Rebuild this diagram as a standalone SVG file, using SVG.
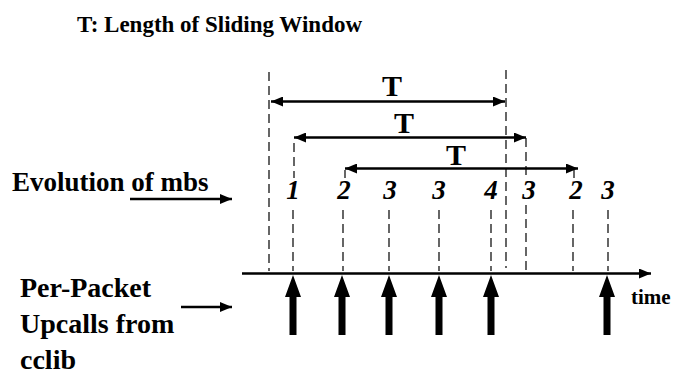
<svg xmlns="http://www.w3.org/2000/svg" width="680" height="379" viewBox="0 0 680 379">
<defs>
<marker id="ah" viewBox="0 0 12 10" refX="12" refY="5" markerWidth="12" markerHeight="10" markerUnits="userSpaceOnUse" orient="auto-start-reverse">
<path d="M0,0 L12,5 L0,10 Z" fill="#000"/>
</marker>
</defs>
<style>
.dash{stroke:#000;stroke-width:1.2;stroke-dasharray:9,5;fill:none}
.line{stroke:#000;stroke-width:2.5;fill:none}
.up{fill:#000}
</style>
<rect width="680" height="379" fill="#fff"/>
<g font-family="Liberation Serif, Times New Roman, serif" font-weight="bold" fill="#000">
<g id="title"><text x="77" y="32" font-size="23">T: Length of Sliding Window</text></g>
<g id="evolution-label"><text x="12" y="191" font-size="27">Evolution of mbs</text></g>
<g id="upcalls-label">
<text x="20" y="297" font-size="28">Per-Packet</text>
<text x="20" y="333" font-size="28">Upcalls from</text>
<text x="20" y="369" font-size="28">cclib</text>
</g>
<g id="time-label"><text x="631" y="304" font-size="21">time</text></g>
<g id="window-labels" font-size="30" text-anchor="middle">
<text x="392" y="96">T</text>
<text x="404" y="133">T</text>
<text x="456" y="165">T</text>
</g>
<g id="mbs-values" font-style="italic" font-size="27" text-anchor="middle">
<text x="293" y="199">1</text>
<text x="344" y="199">2</text>
<text x="390" y="199">3</text>
<text x="439" y="199">3</text>
<text x="491" y="199">4</text>
<text x="529" y="199">3</text>
<text x="576" y="199">2</text>
<text x="608" y="199">3</text>
</g>
</g>
<g id="connectors">
<line class="dash" x1="269" y1="72" x2="269" y2="271"/>
<line class="dash" x1="506" y1="70" x2="506" y2="268"/>
<line class="dash" x1="294" y1="143" x2="294" y2="178"/>
<line class="dash" x1="526" y1="138" x2="526" y2="178"/>
<line class="dash" x1="345" y1="170" x2="345" y2="178"/>
<line class="dash" x1="574" y1="170" x2="574" y2="178"/>
<line class="dash" x1="293" y1="210" x2="293" y2="271"/>
<line class="dash" x1="343" y1="210" x2="343" y2="271"/>
<line class="dash" x1="389" y1="210" x2="389" y2="271"/>
<line class="dash" x1="439" y1="210" x2="439" y2="271"/>
<line class="dash" x1="491" y1="210" x2="491" y2="271"/>
<line class="dash" x1="526" y1="205" x2="526" y2="271"/>
<line class="dash" x1="573" y1="210" x2="573" y2="271"/>
<line class="dash" x1="608" y1="210" x2="608" y2="271"/>
<line class="line" x1="271" y1="101.5" x2="505" y2="101.5" marker-start="url(#ah)" marker-end="url(#ah)"/>
<line class="line" x1="294" y1="137.5" x2="526" y2="137.5" marker-start="url(#ah)" marker-end="url(#ah)"/>
<line class="line" x1="345" y1="168.5" x2="578" y2="168.5" marker-start="url(#ah)" marker-end="url(#ah)"/>
<line class="line" x1="242" y1="273.5" x2="651" y2="273.5" marker-end="url(#ah)"/>
<line class="line" x1="130" y1="199" x2="232" y2="199" marker-end="url(#ah)"/>
<line class="line" x1="181" y1="307" x2="232" y2="307" marker-end="url(#ah)"/>
<g id="upcall-arrows">
<path class="up" d="M293,275 L301,297 L296.5,297 L296.5,335 L289.5,335 L289.5,297 L285,297 Z"/>
<path class="up" d="M342,275 L350,297 L345.5,297 L345.5,335 L338.5,335 L338.5,297 L334,297 Z"/>
<path class="up" d="M389,275 L397,297 L392.5,297 L392.5,335 L385.5,335 L385.5,297 L381,297 Z"/>
<path class="up" d="M439,275 L447,297 L442.5,297 L442.5,335 L435.5,335 L435.5,297 L431,297 Z"/>
<path class="up" d="M491,275 L499,297 L494.5,297 L494.5,335 L487.5,335 L487.5,297 L483,297 Z"/>
<path class="up" d="M607,275 L615,297 L610.5,297 L610.5,335 L603.5,335 L603.5,297 L599,297 Z"/>
</g>
</g>
</svg>
